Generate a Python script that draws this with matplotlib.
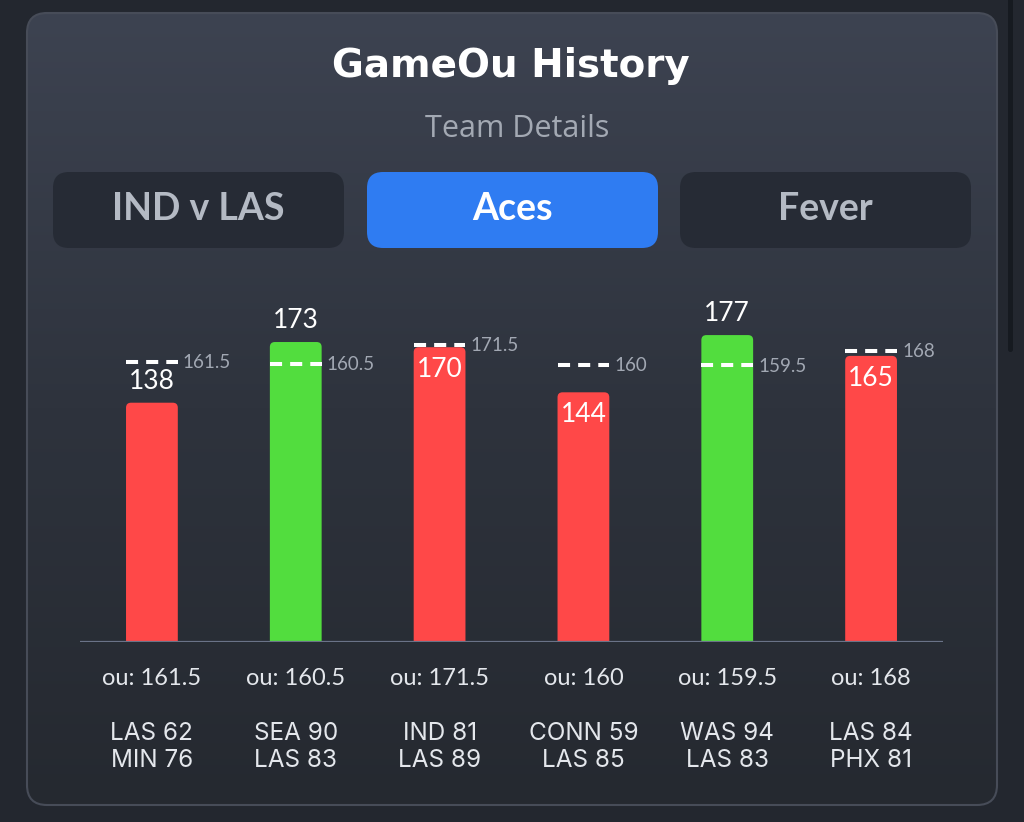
import numpy as np
import matplotlib.pyplot as plt
from matplotlib.patches import FancyBboxPatch
from matplotlib.colors import LinearSegmentedColormap

plt.rcParams['font.family'] = ['Lato', 'DejaVu Sans']

# game data (Aces, last 6 games)
totals = [138, 173, 170, 144, 177, 165]
ou_lines = [161.5, 160.5, 171.5, 160, 159.5, 168]
matchups = ["LAS 62\nMIN 76", "SEA 90\nLAS 83", "IND 81\nLAS 89",
            "CONN 59\nLAS 85", "WAS 94\nLAS 83", "LAS 84\nPHX 81"]
label_inside = [False, False, True, True, False, True]
tabs = ["IND v LAS", "Aces", "Fever"]

W, H = 1024, 822
bg = '#23272f'
red = '#ff4848'
green = '#52dd3e'

fig = plt.figure(figsize=(W / 100, H / 100), dpi=100, facecolor=bg)

# background axes in pixel coords
bga = fig.add_axes([0, 0, 1, 1])
bga.set_xlim(0, W)
bga.set_ylim(H, 0)
bga.axis('off')

# panel with vertical gradient
panel = FancyBboxPatch((27, 13), 970, 792, boxstyle='round,pad=0,rounding_size=20',
                       facecolor='none', edgecolor='#474c58', lw=1.5, zorder=2)
bga.add_patch(panel)
cmap = LinearSegmentedColormap.from_list('pan', ['#3d4351', '#2e333d', '#252930'])
grad = np.linspace(0, 1, 256).reshape(-1, 1)
im = bga.imshow(grad, cmap=cmap, extent=(27, 997, 805, 13), aspect='auto', zorder=1)
im.set_clip_path(panel)

# scrollbar
bga.add_patch(FancyBboxPatch((1008, -10), 5, 362, boxstyle='round,pad=0,rounding_size=2.5',
                             facecolor='#161a20', edgecolor='none', zorder=1))

bga.text(511, 77, "GameOu History", ha='center', va='baseline', fontsize=28,
         fontfamily='DejaVu Sans', fontweight='bold', color='white', zorder=3)
bga.text(517, 137, "Team Details", ha='center', va='baseline', fontsize=22,
         fontfamily='Open Sans', color='#a3a9b3', zorder=3)

# tab buttons
tab_x = [53, 367, 680]
for tx, name in zip(tab_x, tabs):
    active = name == "Aces"
    bga.add_patch(FancyBboxPatch((tx, 172), 291, 76, boxstyle='round,pad=0,rounding_size=16',
                                 facecolor='#2f7cf2' if active else '#262b35',
                                 edgecolor='none', zorder=3))
    bga.text(tx + 145.5, 220, name, ha='center', va='baseline', fontsize=27,
             fontweight='bold', color='white' if active else '#b4bac4', zorder=4)

# chart axes: y=0 at pixel 642, 1.734 px per point
ppu = 1.734
ymax = 200
ax = fig.add_axes([80 / W, (H - 642) / H, 863 / W, ymax * ppu / H])
ax.patch.set_alpha(0)
ax.set_xlim(-0.5, 5.5)
ax.set_ylim(0, ymax)
ax.axis('off')

x = np.arange(len(totals))
colors = [green if t > o else red for t, o in zip(totals, ou_lines)]
bw = 0.36
bars = ax.bar(x, totals, width=bw, color=colors)

# swap plain bars for rounded ones
xunit = 863 / 6
for b, c in zip(bars, colors):
    b.set_visible(False)
    r = FancyBboxPatch((b.get_x(), -6), b.get_width(), b.get_height() + 6,
                       boxstyle='round,pad=0,rounding_size=%f' % (5 / xunit),
                       mutation_aspect=xunit / ppu, facecolor=c, edgecolor='none', zorder=2)
    ax.add_patch(r)

ax.axhline(0, color='#6a7388', lw=1.6, zorder=3)

ax.hlines(ou_lines, x - bw / 2, x + bw / 2, colors='white', lw=2.9,
          linestyles=(0, (3, 2)), zorder=4)

for i in range(len(totals)):
    ax.text(x[i] + bw / 2 + 0.035, ou_lines[i] - 0.5, f"{ou_lines[i]:g}", ha='left',
            va='center', fontsize=13.5, color='#a2a8b3', zorder=5)
    if label_inside[i]:
        ax.text(x[i], totals[i] - 10 / ppu, str(totals[i]), ha='center', va='top',
                fontsize=19, color='white', zorder=5)
    else:
        ax.text(x[i], totals[i] + 14 / ppu, str(totals[i]), ha='center', va='baseline',
                fontsize=19, color='white', zorder=5)
    ax.text(x[i], -43 / ppu, f"ou: {ou_lines[i]:g}", ha='center', va='baseline',
            fontsize=17, color='#e4e7ec', zorder=5, clip_on=False)
    ax.text(x[i], -80 / ppu, matchups[i], ha='center', va='top', fontsize=17.5,
            fontfamily='Inter', color='#e4e7ec', linespacing=1.2, zorder=5, clip_on=False)

fig.savefig('out.png', dpi=100, facecolor=bg)
